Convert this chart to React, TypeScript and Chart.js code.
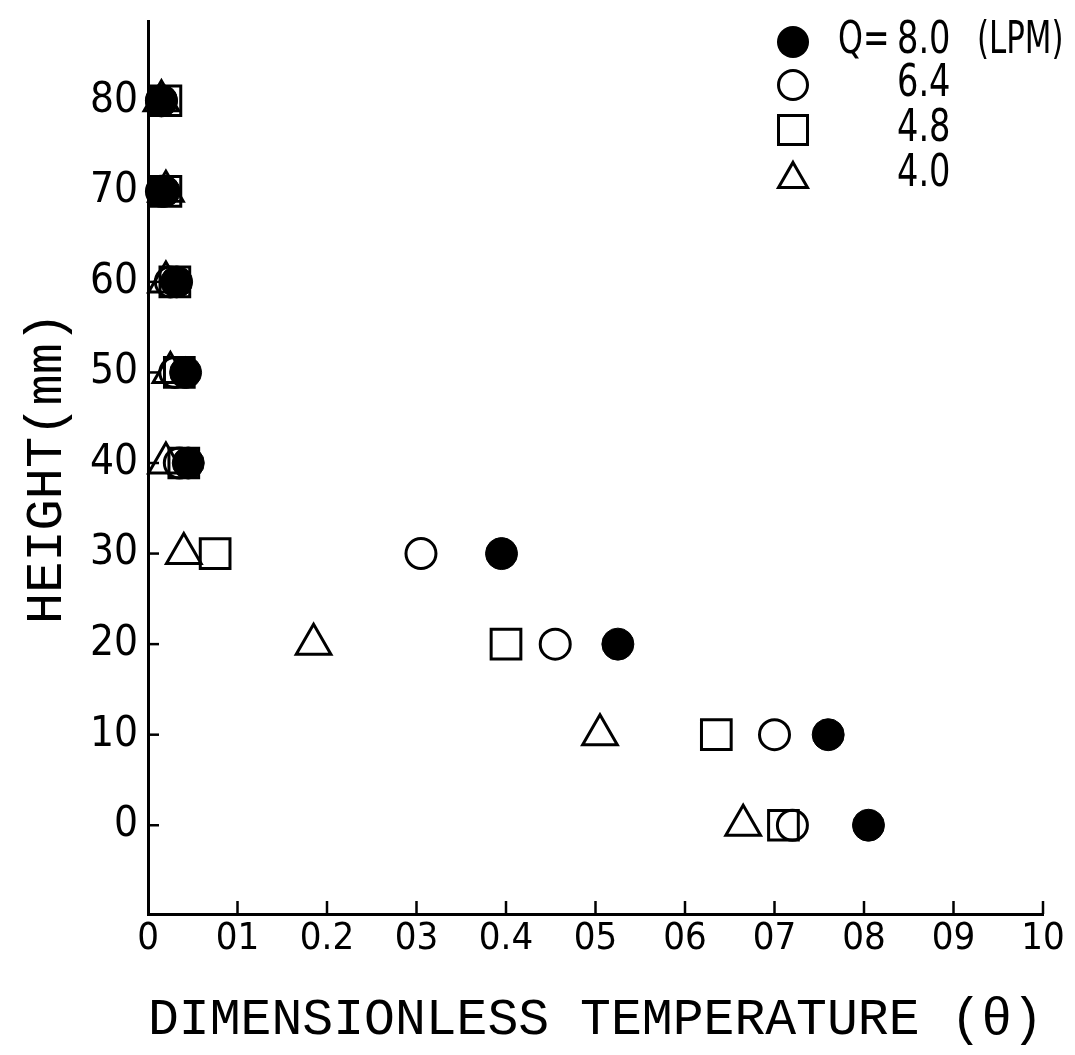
import React, { useEffect, useRef } from 'react';
import { Chart, registerables } from 'chart.js';

Chart.register(...registerables);

// Height above the bottom (mm) at which each temperature was measured
const heights = [0, 10, 20, 30, 40, 50, 60, 70, 80];

// Dimensionless temperature θ for each flow rate
const thetaQ80 = [0.805, 0.76, 0.525, 0.395, 0.045, 0.042, 0.032, 0.018, 0.015];
const thetaQ64 = [0.72, 0.70, 0.455, 0.305, 0.035, 0.03, 0.025, 0.015, 0.015];
const thetaQ48 = [0.71, 0.635, 0.40, 0.075, 0.04, 0.035, 0.03, 0.02, 0.02];
const thetaQ40 = [0.665, 0.505, 0.185, 0.04, 0.02, 0.025, 0.02, 0.02, 0.015];

const flowRates = ['8.0', '6.4', '4.8', '4.0'];
const flowPrefix = 'Q=';
const flowUnit = '(LPM)';

const xTickValues = [0, 0.1, 0.2, 0.3, 0.4, 0.5, 0.6, 0.7, 0.8, 0.9, 1.0];
const xTickLabels = ['0', '01', '0.2', '03', '0.4', '05', '06', '07', '08', '09', '10'];
const yTickValues = [0, 10, 20, 30, 40, 50, 60, 70, 80];

const xTitle = 'DIMENSIONLESS TEMPERATURE (θ)';
const yTitle = 'HEIGHT(mm)';

const digitFont = "'Liberation Sans Narrow', 'DejaVu Sans Condensed', sans-serif";
const titleFont = "'Liberation Mono', 'DejaVu Sans Mono', monospace";
const INK = '#000';

type Marker = { style: 'circle' | 'rect' | 'triangle'; filled: boolean };

function drawMarker(ctx: CanvasRenderingContext2D, m: Marker, x: number, y: number, size: number) {
  ctx.save();
  ctx.lineWidth = 3;
  ctx.strokeStyle = INK;
  ctx.fillStyle = INK;
  ctx.beginPath();
  if (m.style === 'circle') {
    ctx.arc(x, y, size / 2, 0, Math.PI * 2);
  } else if (m.style === 'rect') {
    ctx.rect(x - size / 2, y - size / 2, size, size);
  } else {
    const h = size * 0.87;
    ctx.moveTo(x, y - h / 2);
    ctx.lineTo(x + size / 2, y + h / 2);
    ctx.lineTo(x - size / 2, y + h / 2);
    ctx.closePath();
  }
  if (m.filled) ctx.fill();
  else ctx.stroke();
  ctx.restore();
}

const markers: Marker[] = [
  { style: 'circle', filled: true },
  { style: 'circle', filled: false },
  { style: 'rect', filled: false },
  { style: 'triangle', filled: false },
];

// Inward tick marks on both axes
const innerTicks = {
  id: 'innerTicks',
  afterDraw(chart: any) {
    const { ctx, chartArea, scales } = chart;
    ctx.save();
    ctx.strokeStyle = INK;
    ctx.lineWidth = 2.5;
    xTickValues.forEach((v) => {
      if (v === 0) return;
      const px = scales.x.getPixelForValue(v);
      ctx.beginPath();
      ctx.moveTo(px, chartArea.bottom);
      ctx.lineTo(px, chartArea.bottom - 13);
      ctx.stroke();
    });
    yTickValues.forEach((v) => {
      const py = scales.y.getPixelForValue(v);
      ctx.beginPath();
      ctx.moveTo(chartArea.left, py);
      ctx.lineTo(chartArea.left + 11, py);
      ctx.stroke();
    });
    ctx.restore();
  },
};

// Narrow lettering for the key
function narrowText(ctx: CanvasRenderingContext2D, text: string, x: number, y: number, squeeze: number) {
  ctx.save();
  ctx.translate(x, y);
  ctx.scale(squeeze, 1);
  ctx.fillText(text, 0, 0);
  ctx.restore();
}

// Key in the upper right corner
const flowKey = {
  id: 'flowKey',
  afterDraw(chart: any) {
    const { ctx } = chart;
    const markerX = 793;
    const prefixX = 838;
    const valueX = 897;
    const unitX = 977;
    const rowY = [42, 85, 130, 175];
    ctx.save();
    ctx.fillStyle = INK;
    ctx.textBaseline = 'middle';
    ctx.textAlign = 'left';
    ctx.font = `44px ${digitFont}`;
    flowRates.forEach((rate, i) => {
      const y = rowY[i];
      drawMarker(ctx, markers[i], markerX, y, i === 0 ? 32 : 29);
      if (i === 0) {
        narrowText(ctx, flowPrefix, prefixX, y, 0.8);
        narrowText(ctx, flowUnit, unitX, y, 0.78);
      }
      narrowText(ctx, rate, valueX, y, 0.85);
    });
    ctx.restore();
  },
};

function points(values: number[]) {
  return values.map((v, i) => ({ x: v, y: heights[i] }));
}

export default function App() {
  const canvasRef = useRef<HTMLCanvasElement | null>(null);

  useEffect(() => {
    document.body.style.margin = '0';
    const canvas = canvasRef.current;
    if (!canvas) return;

    const chart = new Chart(canvas, {
      type: 'scatter',
      data: {
        datasets: [
          {
            label: flowRates[0],
            data: points(thetaQ80),
            pointStyle: 'circle',
            pointRadius: 16,
            pointBackgroundColor: INK,
            pointBorderColor: INK,
            pointBorderWidth: 1,
            clip: false,
          },
          {
            label: flowRates[1],
            data: points(thetaQ64),
            pointStyle: 'circle',
            pointRadius: 15,
            pointBackgroundColor: 'rgba(0,0,0,0)',
            pointBorderColor: INK,
            pointBorderWidth: 3,
            clip: false,
          },
          {
            label: flowRates[2],
            data: points(thetaQ48),
            pointStyle: 'rect',
            pointRadius: 21,
            pointBackgroundColor: 'rgba(0,0,0,0)',
            pointBorderColor: INK,
            pointBorderWidth: 3,
            clip: false,
          },
          {
            label: flowRates[3],
            data: points(thetaQ40),
            pointStyle: 'triangle',
            pointRadius: 20,
            pointBackgroundColor: 'rgba(0,0,0,0)',
            pointBorderColor: INK,
            pointBorderWidth: 3,
            clip: false,
          },
        ] as any,
      },
      options: {
        animation: false,
        responsive: false,
        layout: { autoPadding: false, padding: { left: 0, top: 0, right: 32, bottom: 0 } },
        plugins: {
          legend: { display: false },
          tooltip: { enabled: false },
        },
        scales: {
          x: {
            type: 'linear',
            min: 0,
            max: 1,
            afterBuildTicks: (scale: any) => {
              scale.ticks = xTickValues.map((value) => ({ value }));
            },
            afterFit: (scale: any) => {
              scale.height = 141;
            },
            grid: { display: false, drawTicks: false },
            border: { display: true, color: INK, width: 3 },
            ticks: {
              color: INK,
              autoSkip: false,
              maxRotation: 0,
              padding: 2,
              font: { family: digitFont, size: 38 },
              callback: (_v: any, i: number) => xTickLabels[i],
            },
            title: {
              display: true,
              text: xTitle,
              color: INK,
              font: { family: titleFont, size: 52 },
              padding: { top: 0, bottom: 4 },
            },
          },
          y: {
            type: 'linear',
            min: -9.8,
            max: 88.7,
            afterBuildTicks: (scale: any) => {
              scale.ticks = yTickValues.map((value) => ({ value }));
            },
            afterFit: (scale: any) => {
              scale.width = 148;
            },
            grid: { display: false, drawTicks: false },
            border: { display: true, color: INK, width: 3 },
            ticks: {
              color: INK,
              autoSkip: false,
              padding: 10,
              font: { family: digitFont, size: 42, lineHeight: 0.57 },
              callback: (v: any) => String(v),
            },
            title: {
              display: true,
              text: yTitle,
              color: INK,
              font: { family: titleFont, size: 52 },
              padding: { top: 16, bottom: 0 },
            },
          },
        },
      } as any,
      plugins: [innerTicks, flowKey],
    });

    return () => chart.destroy();
  }, []);

  return (
    <div style={{ position: 'absolute', left: 0, top: 0, width: 1075, height: 1055, background: '#fff' }}>
      <canvas ref={canvasRef} width={1075} height={1055} style={{ display: 'block' }} />
    </div>
  );
}
